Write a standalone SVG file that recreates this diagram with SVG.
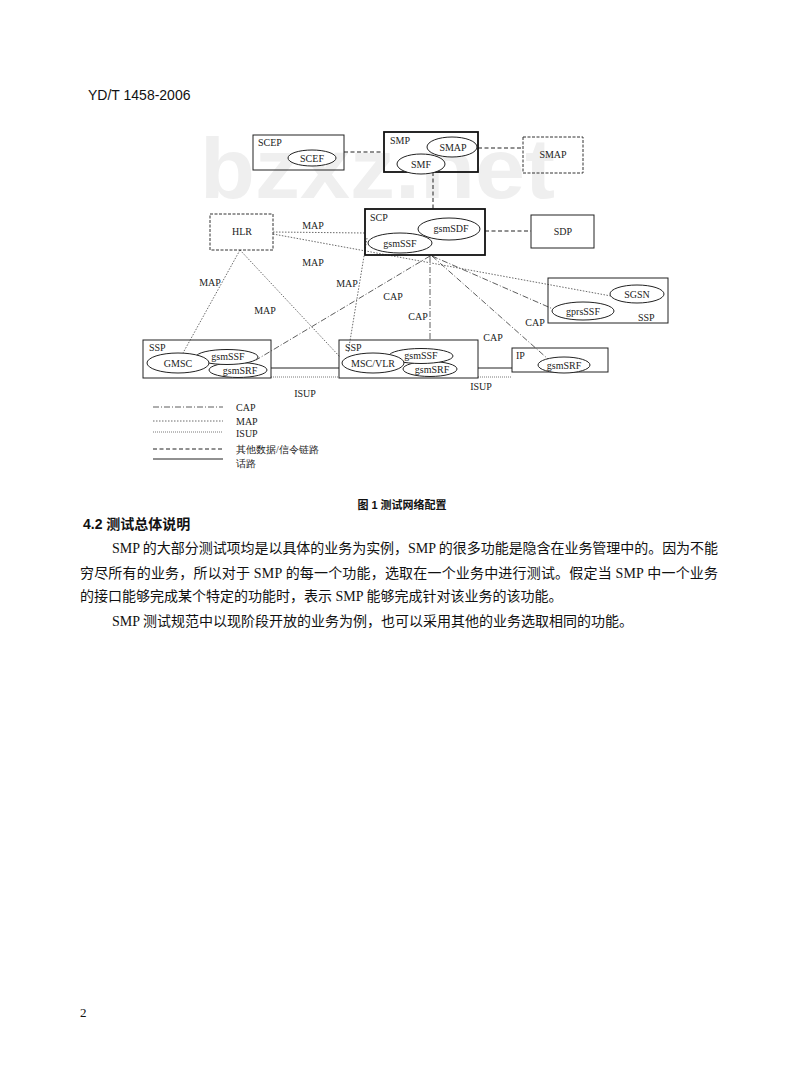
<svg xmlns="http://www.w3.org/2000/svg" width="800" height="1077" viewBox="0 0 800 1077">
<style>
.bg{fill:#fff}
.wm{font-family:"Liberation Sans",Arial,sans-serif;font-weight:bold;fill:#efefef}
.lbl{font-family:"Liberation Serif","Times New Roman",serif;font-size:10px;fill:#222}
.ctr{text-anchor:middle}
.box{fill:none;stroke:#222;stroke-width:1}
.thick{fill:none;stroke:#111;stroke-width:1.8}
.dbox{fill:none;stroke:#333;stroke-width:1;stroke-dasharray:3 1.5}
.ell{fill:#fff;stroke:#222;stroke-width:1}
.cap{fill:none;stroke:#333;stroke-width:0.8;stroke-dasharray:6 2 1 2}
.map{fill:none;stroke:#444;stroke-width:0.8;stroke-dasharray:1.5 1.5}
.isup{fill:none;stroke:#555;stroke-width:0.8;stroke-dasharray:1 1}
.data{fill:none;stroke:#222;stroke-width:1;stroke-dasharray:4 2.5}
.voice{fill:none;stroke:#222;stroke-width:1}
.body{font-family:"Liberation Serif","Noto Sans CJK SC",serif;font-size:14px;fill:#111}
.head{font-family:"Liberation Sans","Noto Sans CJK SC",sans-serif;font-weight:bold;fill:#111}
</style>
<rect class="bg" x="0" y="0" width="800" height="1077"/>
<text class="wm" x="200" y="198" font-size="86" textLength="355" lengthAdjust="spacingAndGlyphs">bzxz.net</text>
<text x="88" y="100" font-family="Liberation Sans,Arial,sans-serif" font-size="14" fill="#111">YD/T 1458-2006</text>

<g id="connectors">
  <line class="data" x1="344" y1="152" x2="384" y2="152"/>
  <line class="data" x1="478" y1="148" x2="523" y2="148"/>
  <line class="data" x1="433" y1="172" x2="433" y2="209"/>
  <line class="data" x1="485" y1="231" x2="531" y2="231"/>
  <line class="map" x1="273" y1="232" x2="365" y2="233"/>
  <line class="map" x1="273" y1="234" x2="611" y2="296"/>
  <line class="map" x1="240" y1="250" x2="183" y2="353"/>
  <line class="map" x1="240" y1="250" x2="340" y2="357"/>
  <line class="map" x1="367" y1="238" x2="348" y2="353"/>
  <line class="cap" x1="430" y1="256" x2="256" y2="360"/>
  <line class="cap" x1="430" y1="256" x2="430" y2="340"/>
  <line class="cap" x1="432" y1="256" x2="548" y2="359"/>
  <line class="cap" x1="432" y1="256" x2="553" y2="309"/>
  <line class="voice" x1="271" y1="368" x2="339" y2="368"/>
  <line class="isup" x1="271" y1="377" x2="339" y2="377"/>
  <line class="voice" x1="478" y1="368" x2="512" y2="368"/>
  <line class="isup" x1="478" y1="377" x2="512" y2="377"/>
  <text class="lbl" x="313" y="229" text-anchor="middle">MAP</text>
  <text class="lbl" x="313" y="266" text-anchor="middle">MAP</text>
  <text class="lbl" x="210" y="286" text-anchor="middle">MAP</text>
  <text class="lbl" x="265" y="314" text-anchor="middle">MAP</text>
  <text class="lbl" x="347" y="287" text-anchor="middle">MAP</text>
  <text class="lbl" x="393" y="300" text-anchor="middle">CAP</text>
  <text class="lbl" x="418" y="320" text-anchor="middle">CAP</text>
  <text class="lbl" x="535" y="326" text-anchor="middle">CAP</text>
  <text class="lbl" x="493" y="341" text-anchor="middle">CAP</text>
  <text class="lbl" x="305" y="397" text-anchor="middle">ISUP</text>
  <text class="lbl" x="481" y="390" text-anchor="middle">ISUP</text>
</g>

<g id="scep">
  <rect class="box" x="253" y="135" width="91" height="35"/>
  <text class="lbl" x="258" y="146">SCEP</text>
  <ellipse class="ell" cx="312" cy="158" rx="24" ry="8"/>
  <text class="lbl ctr" x="312" y="161.5">SCEF</text>
</g>
<g id="smp">
  <rect class="thick" x="384" y="132" width="94" height="40"/>
  <text class="lbl" x="390" y="144">SMP</text>
  <ellipse class="ell" cx="452" cy="147" rx="25" ry="10"/>
  <ellipse class="ell" cx="421" cy="164" rx="24" ry="10"/>
  <text class="lbl ctr" x="453" y="150.5">SMAP</text>
  <text class="lbl ctr" x="421" y="167.5">SMF</text>
</g>
<g id="smap">
  <rect class="dbox" x="523" y="137" width="60" height="36"/>
  <text class="lbl ctr" x="553" y="158">SMAP</text>
</g>
<g id="hlr">
  <rect class="dbox" x="210" y="214" width="63" height="36"/>
  <text class="lbl ctr" x="242" y="235">HLR</text>
</g>
<g id="scp">
  <rect class="thick" x="365" y="209" width="120" height="46"/>
  <text class="lbl" x="370" y="221">SCP</text>
  <ellipse class="ell" cx="449" cy="229" rx="31" ry="11"/>
  <ellipse class="ell" cx="400" cy="243" rx="32" ry="10"/>
  <text class="lbl ctr" x="451" y="232">gsmSDF</text>
  <text class="lbl ctr" x="400" y="246.5">gsmSSF</text>
</g>
<g id="sdp">
  <rect class="box" x="531" y="215" width="63" height="33"/>
  <text class="lbl ctr" x="563" y="235">SDP</text>
</g>
<g id="ssp-gprs">
  <rect class="box" x="548" y="278" width="120" height="45" stroke-width="1.4"/>
  <ellipse class="ell" cx="637" cy="294" rx="27" ry="9"/>
  <ellipse class="ell" cx="583" cy="311" rx="31" ry="9"/>
  <text class="lbl ctr" x="637" y="297.5">SGSN</text>
  <text class="lbl ctr" x="583" y="314.5">gprsSSF</text>
  <text class="lbl" x="638" y="321">SSP</text>
</g>
<g id="ssp-gmsc">
  <rect class="box" x="143" y="340" width="128" height="38" stroke-width="1.3"/>
  <ellipse class="ell" cx="238" cy="370" rx="29" ry="7.5"/>
  <ellipse class="ell" cx="227" cy="357" rx="31" ry="7.5"/>
  <ellipse class="ell" cx="178" cy="363" rx="31" ry="10"/>
  <text class="lbl" x="149" y="351" font-size="9.5">SSP</text>
  <text class="lbl ctr" x="228" y="360">gsmSSF</text>
  <text class="lbl ctr" x="178" y="366.5">GMSC</text>
  <text class="lbl ctr" x="240" y="373.5">gsmSRF</text>
</g>
<g id="ssp-msc">
  <rect class="box" x="339" y="340" width="139" height="38" stroke-width="1.3"/>
  <ellipse class="ell" cx="430" cy="369" rx="27" ry="7.5"/>
  <ellipse class="ell" cx="421" cy="356" rx="32" ry="7.5"/>
  <ellipse class="ell" cx="373" cy="363" rx="31" ry="10"/>
  <text class="lbl" x="345" y="351" font-size="9.5">SSP</text>
  <text class="lbl ctr" x="421" y="359">gsmSSF</text>
  <text class="lbl ctr" x="373" y="366.5">MSC/VLR</text>
  <text class="lbl ctr" x="432" y="372.5">gsmSRF</text>
</g>
<g id="ip">
  <rect class="box" x="512" y="348" width="96" height="24" stroke-width="1.3"/>
  <ellipse class="ell" cx="564" cy="365" rx="26" ry="8"/>
  <text class="lbl" x="516" y="359">IP</text>
  <text class="lbl ctr" x="564" y="368.5">gsmSRF</text>
</g>

<g id="legend">
  <line class="cap" x1="153" y1="407" x2="223" y2="407"/>
  <line class="map" x1="153" y1="421" x2="223" y2="421"/>
  <line class="isup" x1="153" y1="432" x2="223" y2="432"/>
  <line class="data" x1="153" y1="449" x2="223" y2="449" stroke-width="1.4"/>
  <line class="voice" x1="153" y1="459" x2="223" y2="459" stroke-width="1.4"/>
  <text class="lbl" x="236" y="411">CAP</text>
  <text class="lbl" x="236" y="425">MAP</text>
  <text class="lbl" x="236" y="437">ISUP</text>
  <text class="lbl" x="236" y="453" font-family="Liberation Serif,Noto Sans CJK SC,serif">其他数据/信令链路</text>
  <text class="lbl" x="236" y="467" font-family="Liberation Serif,Noto Sans CJK SC,serif">话路</text>
</g>

<text class="head" x="402" y="509" font-size="11" text-anchor="middle">图 1   测试网络配置</text>
<text class="head" x="83" y="529" font-size="14">4.2  测试总体说明</text>
<text class="body" x="112" y="553" textLength="606" lengthAdjust="spacing">SMP 的大部分测试项均是以具体的业务为实例，SMP 的很多功能是隐含在业务管理中的。因为不能</text>
<text class="body" x="80" y="578" textLength="638" lengthAdjust="spacing">穷尽所有的业务，所以对于 SMP 的每一个功能，选取在一个业务中进行测试。假定当 SMP 中一个业务</text>
<text class="body" x="80" y="601">的接口能够完成某个特定的功能时，表示 SMP 能够完成针对该业务的该功能。</text>
<text class="body" x="112" y="626">SMP 测试规范中以现阶段开放的业务为例，也可以采用其他的业务选取相同的功能。</text>
<text x="80" y="1017" font-family="Liberation Serif,serif" font-size="13" fill="#111">2</text>
</svg>
